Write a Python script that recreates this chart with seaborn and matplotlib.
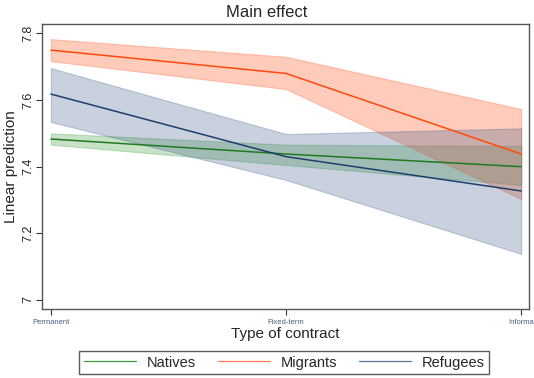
import numpy as np
import pandas as pd
import matplotlib
matplotlib.use("Agg")
import matplotlib.pyplot as plt
import seaborn as sns

sns.set_style("white")
plt.rcParams['font.family'] = ['Liberation Sans', 'DejaVu Sans']

# Données
contrats = ["Permanent", "Fixed-term", "Informa"]
groupes = ["Natives", "Migrants", "Refugees"]

natives = [7.483, 7.438, 7.400]
natives_bas = [7.466, 7.405, 7.345]
natives_haut = [7.500, 7.466, 7.462]

migrants = [7.750, 7.680, 7.438]
migrants_bas = [7.717, 7.633, 7.303]
migrants_haut = [7.783, 7.730, 7.573]

refugees = [7.618, 7.430, 7.327]
refugees_bas = [7.534, 7.360, 7.138]
refugees_haut = [7.696, 7.498, 7.515]

couleurs_ligne = {"Natives": "#1f7a1f", "Migrants": "#ff4a0a", "Refugees": "#1e3f6e"}
couleurs_bande = {"Natives": "#3a9a3a", "Migrants": "#ff6a3d", "Refugees": "#3a5a85"}
couleurs_legende = {"Natives": "#3f9a3f", "Migrants": "#ff7a50", "Refugees": "#5a7596"}
alphas = {"Natives": 0.28, "Migrants": 0.35, "Refugees": 0.28}

df = pd.DataFrame({
    "contrat": contrats * 3,
    "groupe": np.repeat(groupes, 3),
    "pred": natives + migrants + refugees,
    "bas": natives_bas + migrants_bas + refugees_bas,
    "haut": natives_haut + migrants_haut + refugees_haut,
})

fig = plt.figure(figsize=(5.34, 3.78), dpi=100)
ax = fig.add_axes([0.079, 0.183, 0.912, 0.754])

# Bandes de confiance
for g in groupes:
    sub = df[df["groupe"] == g]
    ax.fill_between(sub["contrat"], sub["bas"], sub["haut"],
                    color=couleurs_bande[g], alpha=alphas[g], linewidth=0.8,
                    edgecolor=couleurs_bande[g])

sns.lineplot(data=df, x="contrat", y="pred", hue="groupe",
             palette=couleurs_ligne, linewidth=1.1, ax=ax, legend=False)

ax.set_xlim(-0.037, 2.034)
ax.set_ylim(6.973, 7.829)
ax.set_yticks([7, 7.2, 7.4, 7.6, 7.8])
ax.set_yticklabels(["7", "7.2", "7.4", "7.6", "7.8"], rotation=90, va="center", fontsize=9)
ax.tick_params(axis="y", length=4, width=0.8, color="#333333", pad=2, left=True)
ax.tick_params(axis="x", length=4, width=0.8, color="#333333", pad=3, bottom=True,
               labelsize=5.5, labelcolor="#4a5f80")
for s in ax.spines.values():
    s.set_color("#555555")
    s.set_linewidth(1.0)

ax.set_xlabel("Type of contract", fontsize=11, labelpad=1)
ax.set_ylabel("Linear prediction", fontsize=11, labelpad=3)
fig.text(0.5, 0.967, "Main effect", ha="center", va="center", fontsize=12)

poignees = [plt.Line2D([], [], color=couleurs_legende[g], linewidth=0.9) for g in groupes]
leg = fig.legend(poignees, groupes, loc="center", bbox_to_anchor=(0.532, 0.041),
                 ncol=3, fancybox=False, frameon=True, fontsize=10.5,
                 handlelength=3.6, columnspacing=1.5, handletextpad=0.7,
                 borderpad=0.3, borderaxespad=0, edgecolor="#333333")
leg.get_frame().set_linewidth(1.0)

fig.savefig("out.png", dpi=100)
